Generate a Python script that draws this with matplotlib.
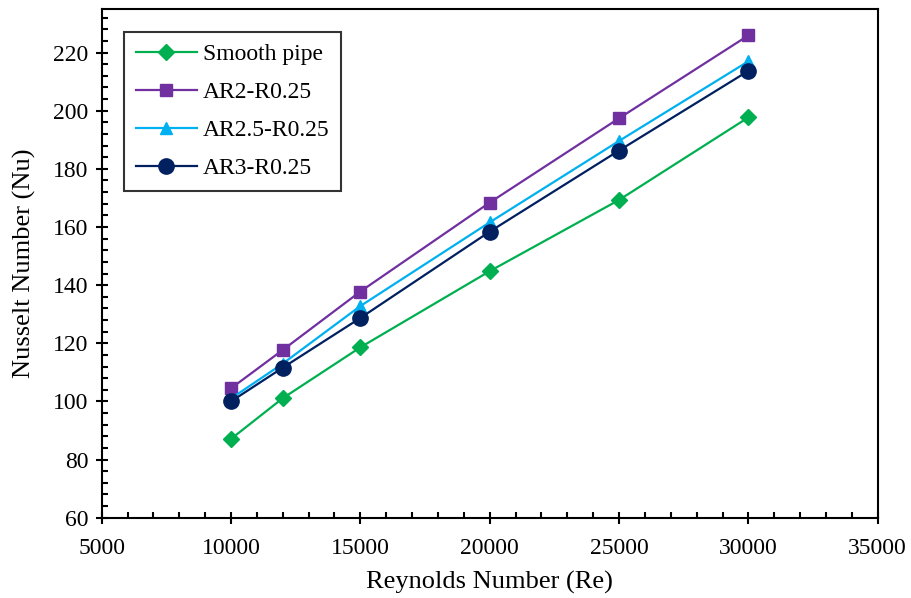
import numpy as np
import matplotlib
matplotlib.use("Agg")
import matplotlib.pyplot as plt
from matplotlib.ticker import MultipleLocator

plt.rcParams['font.family'] = ['Liberation Serif', 'DejaVu Serif']

re_vals = [10000, 12000, 15000, 20000, 25000, 30000]
nu_smooth = [87.1, 101.1, 118.6, 144.8, 169.3, 197.7]
nu_ar2 = [104.5, 117.7, 137.8, 168.4, 197.4, 225.9]
nu_ar25 = [101.0, 113.0, 132.8, 161.6, 189.6, 217.0]
nu_ar3 = [100.0, 111.6, 128.7, 158.4, 186.3, 213.7]

series = [
    ('Smooth pipe', nu_smooth, '#00B050', 'D', 8),
    ('AR2-R0.25', nu_ar2, '#7030A0', 's', 8.5),
    ('AR2.5-R0.25', nu_ar25, '#00B0F0', '^', 9),
    ('AR3-R0.25', nu_ar3, '#002060', 'o', 11),
]

fig = plt.figure(figsize=(9.12, 5.98), dpi=100)
ax = fig.add_axes([0.1115, 0.1343, 0.8509, 0.8507])

for label, vals, col, mk, ms in series:
    ax.plot(re_vals, vals, color=col, marker=mk, markersize=ms, linewidth=1.6,
            label=label)

ax.set_xlim(5000, 35000)
ax.set_ylim(60, 235)
ax.xaxis.set_major_locator(MultipleLocator(5000))
ax.xaxis.set_minor_locator(MultipleLocator(1000))
ax.yaxis.set_major_locator(MultipleLocator(20))
ax.yaxis.set_minor_locator(MultipleLocator(4))
ax.tick_params(which='major', direction='inout', length=9, width=1.5, labelsize=17)
ax.tick_params(which='minor', direction='in', length=4, width=1.5)
ax.tick_params(axis='x', which='major', pad=10)
ax.tick_params(axis='y', which='major', pad=5)
for s in ax.spines.values():
    s.set_linewidth(1.5)

ax.set_xlabel('Reynolds Number (Re)', fontsize=19, labelpad=9)
ax.set_ylabel('Nusselt Number (Nu)', fontsize=19, labelpad=12)

leg = ax.legend(loc='upper left', bbox_to_anchor=(0.0287, 0.955), fontsize=17,
                frameon=True, fancybox=False, edgecolor='black',
                borderaxespad=0, handlelength=2.6, handletextpad=0.25,
                labelspacing=0.7, borderpad=0.5)
leg.get_frame().set_linewidth(1.5)

fig.savefig('out.png', dpi=100)
